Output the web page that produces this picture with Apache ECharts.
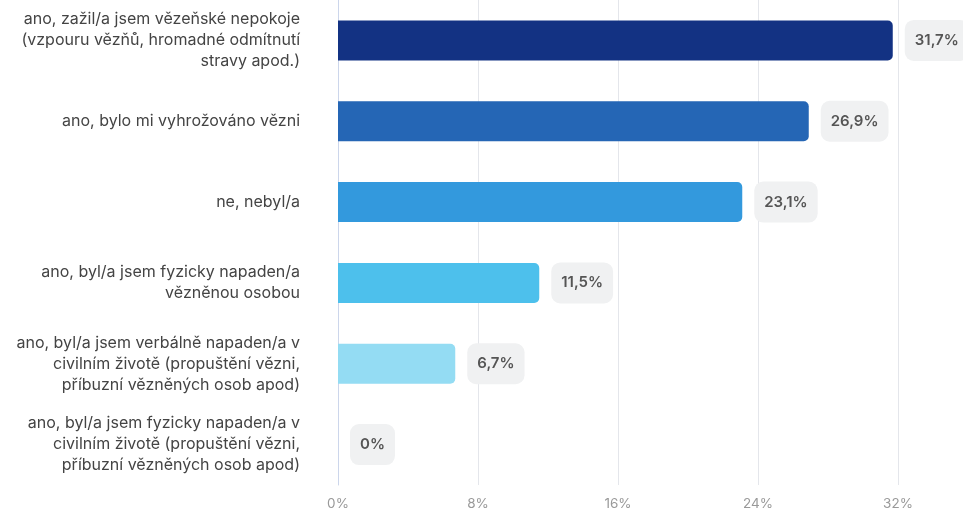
<!DOCTYPE html>
<html>
<head>
<meta charset="utf-8">
<script src="https://cdn.jsdelivr.net/npm/echarts@6/dist/echarts.min.js"></script>
<style>
  html, body { margin: 0; padding: 0; background: #fff; }
  #chart { width: 963px; height: 513px; }
</style>
</head>
<body>
<div id="chart"></div>
<script>
let categories = [
    "ano, zažil/a jsem vězeňské nepokoje\n(vzpouru vězňů, hromadné odmítnutí\nstravy apod.)",
    "ano, bylo mi vyhrožováno vězni",
    "ne, nebyl/a",
    "ano, byl/a jsem fyzicky napaden/a\nvězněnou osobou",
    "ano, byl/a jsem verbálně napaden/a v\ncivilním životě (propuštění vězni,\npříbuzní vězněných osob apod)",
    "ano, byl/a jsem fyzicky napaden/a v\ncivilním životě (propuštění vězni,\npříbuzní vězněných osob apod)"
];
let values = [31.7, 26.9, 23.1, 11.5, 6.7, 0];
let colors = ["#133283", "#2566b5", "#3399dd", "#4dc0ec", "#94dcf3", "#94dcf3"];
let ticks = [0, 8, 16, 24, 32];

function pct(v){
    return String(v).replace(".", ",") + "%";
}

var myChart = echarts.init(document.getElementById("chart"));

var option = {
    animation: false,
    textStyle: { fontFamily: "Inter" },
    grid: {
        left: 338,
        right: 65,
        top: 0,
        bottom: 28
    },
    xAxis: {
        type: "value",
        min: ticks[0],
        max: ticks[ticks.length - 1],
        interval: 8,
        axisLabel: {
            color: "#999",
            fontSize: 13.5,
            margin: 12,
            formatter: function(v){ return v + "%"; }
        },
        splitLine: { lineStyle: { color: "#e4e6eb" } },
        axisLine: { show: false },
        axisTick: { show: false }
    },
    yAxis: {
        type: "category",
        inverse: true,
        data: categories,
        axisLine: { lineStyle: { color: "#ccd6eb" } },
        axisTick: { show: false },
        axisLabel: {
            color: "#444",
            fontSize: 16,
            lineHeight: 21,
            margin: 38,
            align: "right"
        }
    },
    series: [{
        type: "bar",
        barWidth: 40,
        data: values.map(function(v, i){
            return { value: v, itemStyle: { color: colors[i] } };
        }),
        itemStyle: { borderRadius: [0, 5, 5, 0] },
        label: {
            show: true,
            position: "right",
            distance: 12,
            formatter: function(p){ return pct(p.value); },
            color: "#555",
            fontSize: 15,
            fontWeight: 600,
            backgroundColor: "#f0f1f2",
            borderRadius: 9,
            padding: [13, 10]
        }
    }]
};

myChart.setOption(option);
</script>
</body>
</html>
